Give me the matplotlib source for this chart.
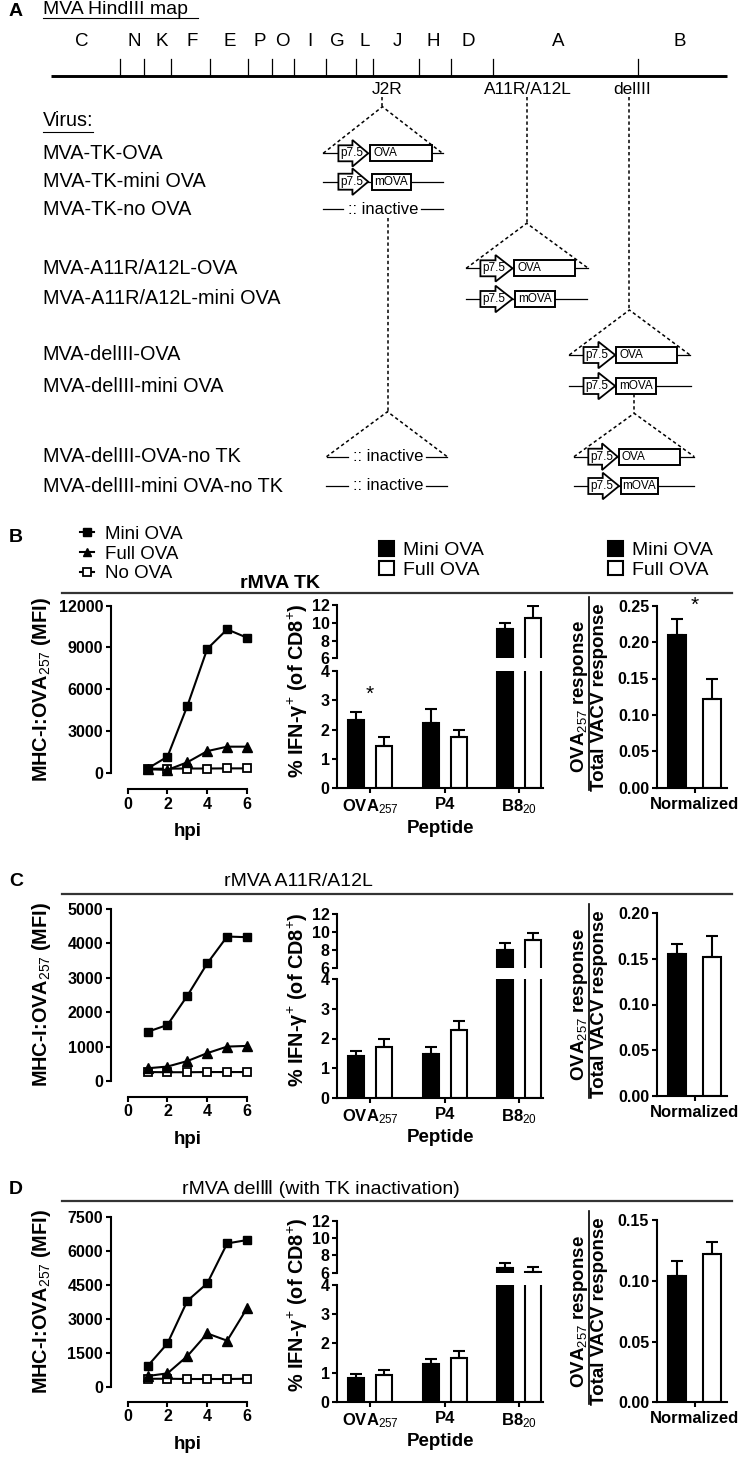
import matplotlib
matplotlib.use('Agg')
import matplotlib.pyplot as plt
from matplotlib.patches import Polygon, Rectangle
import numpy as np

plt.rcParams['font.family'] = ['Liberation Sans', 'DejaVu Sans']
plt.rcParams['mathtext.fontset'] = 'custom'
plt.rcParams['mathtext.rm'] = 'Liberation Sans'
plt.rcParams['mathtext.it'] = 'Liberation Sans:italic'
plt.rcParams['mathtext.bf'] = 'Liberation Sans:bold'
plt.rcParams['axes.linewidth'] = 1.5

# ---------------- data ----------------
hpi = [1, 2, 3, 4, 5, 6]
hpi_ticks = [0, 2, 4, 6]
line_series = ['Mini OVA', 'Full OVA', 'No OVA']
bar_series = ['Mini OVA', 'Full OVA']

tk_mini_mfi = [300, 1150, 4800, 8900, 10300, 9700]
tk_full_mfi = [250, 200, 750, 1550, 1870, 1870]
tk_none_mfi = [280, 290, 300, 300, 310, 310]
tk_mfi_ticks = [0, 3000, 6000, 9000, 12000]

a11_mini_mfi = [1430, 1630, 2480, 3420, 4200, 4180]
a11_full_mfi = [370, 420, 580, 810, 1000, 1020]
a11_none_mfi = [260, 255, 255, 260, 260, 260]
a11_mfi_ticks = [0, 1000, 2000, 3000, 4000, 5000]

del_mini_mfi = [910, 1910, 3790, 4560, 6320, 6470]
del_full_mfi = [470, 590, 1350, 2350, 2030, 3460]
del_none_mfi = [350, 350, 340, 340, 340, 350]
del_mfi_ticks = [0, 1500, 3000, 4500, 6000, 7500]

peptides = ['OVA$_{257}$', 'P4', 'B8$_{20}$']
pct_low_ticks = [0, 1, 2, 3, 4]
pct_high_ticks = [6, 8, 10, 12]

tk_mini_pct = [2.33, 2.22, 9.25]
tk_mini_pct_err = [0.28, 0.47, 0.75]
tk_full_pct = [1.43, 1.75, 10.55]
tk_full_pct_err = [0.30, 0.23, 1.30]

a11_mini_pct = [1.42, 1.47, 8.0]
a11_mini_pct_err = [0.15, 0.23, 0.80]
a11_full_pct = [1.70, 2.30, 9.15]
a11_full_pct_err = [0.28, 0.30, 0.70]

del_mini_pct = [0.82, 1.28, 6.50]
del_mini_pct_err = [0.14, 0.19, 0.63]
del_full_pct = [0.93, 1.50, 6.05]
del_full_pct_err = [0.14, 0.25, 0.60]

norm_category = ['Normalized']
tk_norm = [0.210, 0.122]
tk_norm_err = [0.022, 0.027]
tk_norm_ticks = [0.00, 0.05, 0.10, 0.15, 0.20, 0.25]
a11_norm = [0.155, 0.152]
a11_norm_err = [0.011, 0.023]
a11_norm_ticks = [0.00, 0.05, 0.10, 0.15, 0.20]
del_norm = [0.104, 0.122]
del_norm_err = [0.012, 0.010]
del_norm_ticks = [0.00, 0.05, 0.10, 0.15]

map_fragments = ['C', 'N', 'K', 'F', 'E', 'P', 'O', 'I', 'G', 'L', 'J', 'H', 'D', 'A', 'B']
viruses = ['MVA-TK-OVA', 'MVA-TK-mini OVA', 'MVA-TK-no OVA',
           'MVA-A11R/A12L-OVA', 'MVA-A11R/A12L-mini OVA',
           'MVA-delIII-OVA', 'MVA-delIII-mini OVA',
           'MVA-delIII-OVA-no TK', 'MVA-delIII-mini OVA-no TK']

# ---------------- figure ----------------
W, H = 742, 1459
fig = plt.figure(figsize=(W / 100, H / 100), dpi=100)
PT = 0.72  # points per pixel


def px_axes(x0, y0, x1, y1):
    ax = fig.add_axes([x0 / W, 1 - y1 / H, (x1 - x0) / W, (y1 - y0) / H])
    ax.patch.set_visible(False)
    return ax


ov = fig.add_axes([0, 0, 1, 1])
ov.set_xlim(0, W)
ov.set_ylim(H, 0)
ov.axis('off')


def txt(x, y, s, size, weight='normal', ha='left', va='center', **kw):
    return ov.text(x, y, s, fontsize=size, fontweight=weight, ha=ha, va=va, **kw)


def dashed(xs, ys):
    ov.plot(xs, ys, color='k', lw=1.1, ls=(0, (2.2, 1.8)))


# ---------------- panel A : schematic ----------------
txt(9, 12, 'A', 14, 'bold')
txt(42.7, 10, 'MVA HindIII map', 14)
ov.plot([42.7, 198], [18, 18], color='k', lw=0.8)

map_y = 76
map_tick_x = [119.7, 143.9, 170.8, 210.1, 248, 271.6, 293.9, 325.6, 355.9,
              372.9, 419.3, 451, 492.7, 638.4]
map_letter_x = [81.9, 133.9, 161.4, 191.7, 229.5, 259.3, 282.5, 310, 337.4,
                364.4, 397.5, 433, 468.5, 558.4, 680]
ov.plot([50.6, 726.5], [map_y, map_y], color='k', lw=2.1, solid_capstyle='butt')
for x in map_tick_x:
    ov.plot([x, x], [59, map_y], color='k', lw=0.9)
for x, s in zip(map_letter_x, map_fragments):
    txt(x, 41, s, 13.5, ha='center')

txt(386.7, 89, 'J2R', 12.5, ha='center')
txt(528, 89, 'A11R/A12L', 12.5, ha='center')
txt(632.3, 89, 'delIII', 12.5, ha='center')

txt(42.7, 121, 'Virus:', 14.3)
ov.plot([42.7, 93], [131.5, 131.5], color='k', lw=0.8)
row_y = [153.3, 181.7, 209.3, 268.3, 299, 355, 386, 456.7, 486]
for y, s in zip(row_y, viruses):
    txt(42.7, y, s, 14.3)


def promoter(x0, x1, y):
    xh = x0 + 0.47 * (x1 - x0)
    pts = [(x0, y - 8), (xh, y - 8), (xh, y - 13.3), (x1, y), (xh, y + 13.3),
           (xh, y + 8), (x0, y + 8)]
    ov.add_patch(Polygon(pts, closed=True, fc='white', ec='k', lw=1.3, zorder=3))
    txt(x0 + 1.5, y, 'p7.5', 8.5, zorder=4)


def gene(x0, x1, y, label):
    ov.add_patch(Rectangle((x0, y - 8), x1 - x0, 16, fc='white', ec='k', lw=1.4, zorder=3))
    if label == 'OVA':
        txt(x0 + 3, y, label, 8.5, zorder=4)
    else:
        txt((x0 + x1) / 2, y, label, 8.5, ha='center', zorder=4)


def construct(xl, xr, y, a0, a1, b0, b1, label):
    ov.plot([xl, xr], [y, y], color='k', lw=0.9, zorder=2)
    promoter(a0, a1, y)
    gene(b0, b1, y, label)


def inactive(xl, xr, y, xc):
    ov.plot([xl, xc - 40], [y, y], color='k', lw=0.9)
    ov.plot([xc + 38, xr], [y, y], color='k', lw=0.9)
    txt(xc, y, ':: inactive', 12, ha='center')


construct(323.2, 442.5, row_y[0], 338.4, 368.2, 370, 431.6, 'OVA')
construct(323.2, 442.5, row_y[1], 338.4, 368.2, 371.5, 410.8, 'mOVA')
inactive(323.2, 442.5, row_y[2], 383)
construct(466.2, 588.3, row_y[3], 480.4, 512.5, 514.4, 575, 'OVA')
construct(466.2, 586.8, row_y[4], 480.4, 512.5, 515, 554.6, 'mOVA')
construct(569.3, 690, row_y[5], 583.5, 615.2, 616.2, 676.8, 'OVA')
construct(569.3, 691, row_y[6], 583.5, 615.2, 616.2, 655.5, 'mOVA')
inactive(326.5, 447.2, row_y[7], 388)
construct(574, 694.3, row_y[7], 588.3, 617.6, 618.5, 680, 'OVA')
inactive(325.6, 447, row_y[8], 388)
construct(574, 694.3, row_y[8], 588.3, 619, 621, 657.8, 'mOVA')

# insertion-site triangles and dashed guides
dashed([382.4, 382.4], [97, 106.7])
dashed([323.2, 382.4, 442.5], [153.3, 106.7, 153.3])
dashed([526.7, 526.7], [97, 223.3])
dashed([466.2, 526.7, 588.3], [268.3, 223.3, 268.3])
dashed([629.4, 629.4], [97, 310])
dashed([569.3, 629.4, 690], [355, 310, 355])
dashed([387.5, 387.5], [218.3, 411.7])
dashed([326.5, 387.5, 447.2], [456.7, 411.7, 456.7])
dashed([634.2, 634.2], [394, 413.3])
dashed([574, 634.2, 694.3], [456.7, 413.3, 456.7])


# ---------------- charts ----------------
def style(ax):
    for s in ('top', 'right'):
        ax.spines[s].set_visible(False)
    ax.tick_params(direction='out', length=3.6, width=1.5, labelsize=11.5, pad=2)


def boldticks(ax):
    for t in ax.get_xticklabels() + ax.get_yticklabels():
        t.set_fontweight('bold')


def header(L, letter, title, weight):
    if letter:
        txt(9, L['title_y'], letter, 14, 'bold')
    txt(L['title_x'], L['title_y'], title, 14, weight, ha='center')
    ov.plot([62, 732], [L['sep'], L['sep']], color='#333333', lw=1.6)


def line_chart(L, mini, full, none, ticks):
    ymax = ticks[-1]
    ax = px_axes(111, L['top'], 253, L['zero'])
    style(ax)
    ax.set_xlim(-0.84, 6.30)
    ax.set_ylim(0, ymax)
    hn, = ax.plot(hpi, none, color='k', lw=1.5, marker='s', ms=6.3, mfc='white',
                  mec='k', mew=1.3, clip_on=False, zorder=3)
    hf, = ax.plot(hpi, full, color='k', lw=1.5, marker='^', ms=7, clip_on=False, zorder=4)
    hm, = ax.plot(hpi, mini, color='k', lw=1.5, marker='s', ms=6.3, clip_on=False, zorder=5)
    ax.spines['left'].set_bounds(0, ymax)
    ax.spines['bottom'].set_position(('outward', (L['xaxis'] - L['zero']) * PT))
    ax.spines['bottom'].set_bounds(0, 6)
    ax.set_xticks(hpi_ticks)
    ax.set_yticks(ticks)
    boldticks(ax)
    txt(41.7, (L['top'] + L['zero']) / 2, 'MHC-I:OVA$_{257}$ (MFI)', 14.3, 'bold',
        ha='center', rotation=90)
    txt(187.7, L['xaxis'] + 43, 'hpi', 13.5, 'bold', ha='center')
    return ax, [hm, hf, hn]


def pct_chart(L, mini, mini_err, full, full_err, star_y=None):
    x = np.arange(len(peptides))
    off, w = 0.187, 0.215
    axl = px_axes(337.3, L['lo_top'], 543, L['lo_zero'])
    axu = px_axes(337.3, L['up_top'], 543, L['up_six'])
    handles = None
    for ax, lim in ((axl, (0, 4)), (axu, (6, 12))):
        style(ax)
        ax.set_xlim(-0.438, 2.319)
        ax.set_ylim(*lim)
        bm = ax.bar(x - off, mini, w, color='k', edgecolor='k', lw=1.5)
        bf = ax.bar(x + off, full, w, color='white', edgecolor='k', lw=1.5)
        ax.errorbar(x - off, mini, yerr=[np.zeros(len(x)), mini_err], fmt='none',
                    ecolor='k', elinewidth=1.5, capsize=4.5, capthick=1.5)
        ax.errorbar(x + off, full, yerr=[np.zeros(len(x)), full_err], fmt='none',
                    ecolor='k', elinewidth=1.5, capsize=4.5, capthick=1.5)
        handles = [bm, bf]
    axu.spines['bottom'].set_visible(False)
    axu.set_xticks([])
    axu.spines['left'].set_bounds(6, 12)
    axu.set_yticks(pct_high_ticks)
    axl.spines['left'].set_bounds(0, 4)
    axl.set_yticks(pct_low_ticks)
    axl.set_xticks(x)
    axl.set_xticklabels(peptides, fontsize=12)
    axl.tick_params(axis='x', pad=3)
    boldticks(axl)
    boldticks(axu)
    if star_y is not None:
        axl.text(0, star_y, '*', fontsize=15, ha='center', va='center')
    txt(298, (L['up_top'] + L['lo_zero']) / 2 - 6, '% IFN-γ$^{+}$ (of CD8$^{+}$)', 14.3,
        'bold', ha='center', rotation=90)
    txt(440, L['lo_zero'] + 40, 'Peptide', 13.5, 'bold', ha='center')
    return axu, handles


def norm_chart(L, vals, errs, ticks, star=False):
    ymax = ticks[-1]
    ax = px_axes(657, L['ntop'], 727, L['nzero'])
    style(ax)
    ax.set_xlim(-0.540, 0.468)
    ax.set_ylim(0, ymax)
    bm = ax.bar([-0.25], [vals[0]], 0.25, color='k', edgecolor='k', lw=1.5)
    bf = ax.bar([0.25], [vals[1]], 0.25, color='white', edgecolor='k', lw=1.5)
    ax.errorbar([-0.25, 0.25], vals, yerr=[[0, 0], errs], fmt='none', ecolor='k',
                elinewidth=1.5, capsize=4.5, capthick=1.5)
    ax.spines['left'].set_bounds(0, ymax)
    ax.set_yticks(ticks)
    ax.set_yticklabels(['%.2f' % t for t in ticks])
    ax.set_xticks([0])
    ax.set_xticklabels(norm_category, fontsize=12)
    ax.tick_params(axis='x', pad=3)
    boldticks(ax)
    if star:
        ax.text(0, ymax, '*', fontsize=15, ha='center', va='center')
    yc = (L['ntop'] + L['nzero']) / 2
    txt(579.5, yc, 'OVA$_{257}$ response', 13.5, 'bold', ha='center', rotation=90)
    txt(599.5, yc, 'Total VACV response', 13.5, 'bold', ha='center', rotation=90)
    ov.plot([588.5, 588.5], [L['ntop'] - 9, L['nzero'] + 2], color='k', lw=1.2)
    return ax, [bm, bf]


LB = dict(title_x=280.4, title_y=583.3, sep=592.7,
          top=605.7, zero=772.7, xaxis=789,
          up_top=605, up_six=658.3, lo_top=670.7, lo_zero=788.3,
          ntop=605.7, nzero=787.7)
LC = dict(title_x=298, title_y=882, sep=894,
          top=909, zero=1081, xaxis=1096.7,
          up_top=914.3, up_six=967.5, lo_top=979.3, lo_zero=1097.7,
          ntop=913.3, nzero=1095.7)
LD = dict(title_x=320.6, title_y=1189, sep=1201,
          top=1216.7, zero=1386.7, xaxis=1401.7,
          up_top=1220.7, up_six=1272.7, lo_top=1285, lo_zero=1401.7,
          ntop=1220, nzero=1402.3)

# panel B
txt(9, 537, 'B', 14, 'bold')
header(LB, '', 'rMVA TK', 'bold')
axB, hB = line_chart(LB, tk_mini_mfi, tk_full_mfi, tk_none_mfi, tk_mfi_ticks)
axBm, hBm = pct_chart(LB, tk_mini_pct, tk_mini_pct_err, tk_full_pct, tk_full_pct_err, star_y=3.2)
axBn, hBn = norm_chart(LB, tk_norm, tk_norm_err, tk_norm_ticks, star=True)

axB.legend(hB, line_series, loc='upper left', bbox_to_anchor=(80 / W, 1 - 525.5 / H),
           bbox_transform=fig.transFigure, frameon=False, fontsize=13.5,
           handlelength=0.75, handletextpad=0.6, labelspacing=0.15, borderpad=0,
           borderaxespad=0, markerscale=0.85)
for axx, hh, x0 in ((axBm, hBm, 378.6), (axBn, hBn, 607.5)):
    axx.legend(hh, bar_series, loc='upper left',
               bbox_to_anchor=(x0 / W, 1 - 541 / H), bbox_transform=fig.transFigure,
               frameon=False, fontsize=14, handlelength=0.78, handleheight=0.78,
               handletextpad=0.5, labelspacing=0.08, borderpad=0, borderaxespad=0)

# panel C
header(LC, 'C', 'rMVA A11R/A12L', 'normal')
line_chart(LC, a11_mini_mfi, a11_full_mfi, a11_none_mfi, a11_mfi_ticks)
pct_chart(LC, a11_mini_pct, a11_mini_pct_err, a11_full_pct, a11_full_pct_err)
norm_chart(LC, a11_norm, a11_norm_err, a11_norm_ticks)

# panel D
header(LD, 'D', 'rMVA delⅢ (with TK inactivation)', 'normal')
line_chart(LD, del_mini_mfi, del_full_mfi, del_none_mfi, del_mfi_ticks)
pct_chart(LD, del_mini_pct, del_mini_pct_err, del_full_pct, del_full_pct_err)
norm_chart(LD, del_norm, del_norm_err, del_norm_ticks)

fig.savefig('out.png', dpi=100)
